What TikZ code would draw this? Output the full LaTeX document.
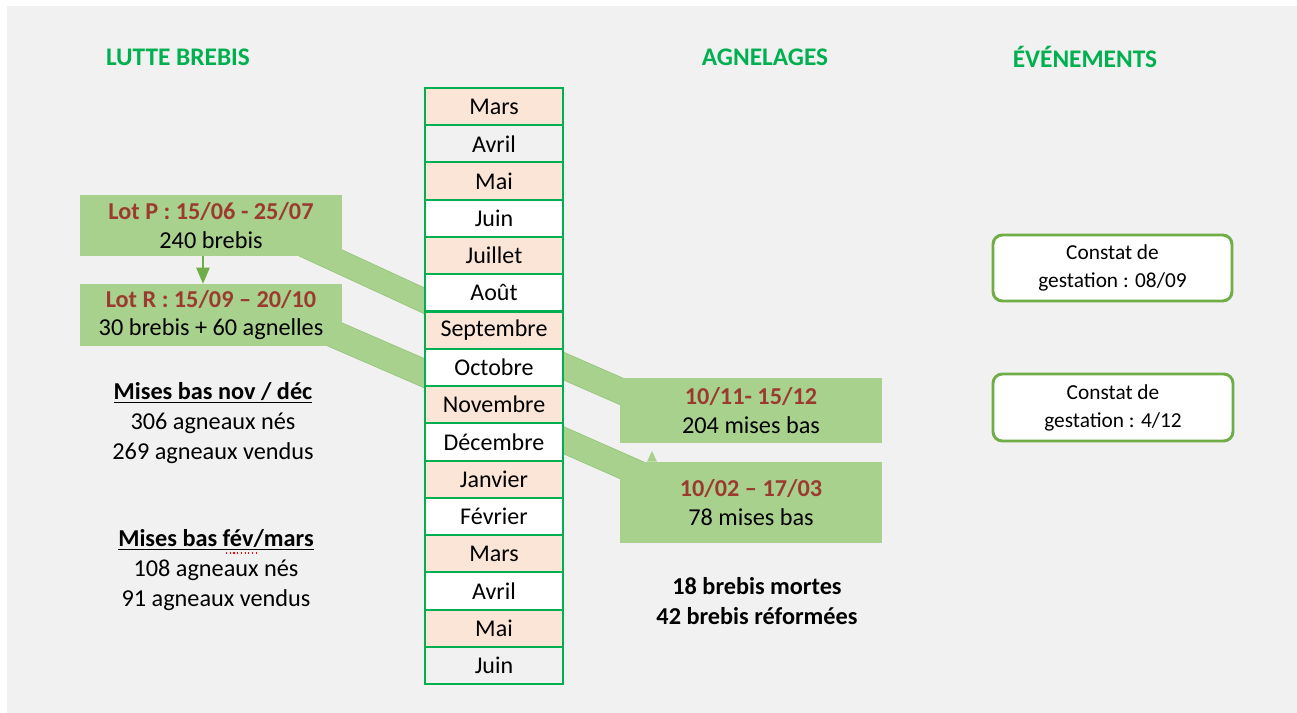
\documentclass[tikz,border=0pt]{standalone}
\usepackage{fontspec}
\setmainfont{Carlito}
\usetikzlibrary{arrows.meta,calc}
\definecolor{bgray}{HTML}{F1F1F1}
\definecolor{ttlgreen}{HTML}{00B050}
\definecolor{boxgreen}{HTML}{A9D18E}
\definecolor{bandedge}{HTML}{95C57A}
\definecolor{darkgreen}{HTML}{70AD47}
\definecolor{peach}{HTML}{FBE5D6}
\definecolor{lotred}{HTML}{9B3B30}
\tikzset{
  ttl/.style={font=\fontsize{19}{22}\selectfont\bfseries, text=ttlgreen, inner sep=0pt},
  greenbox/.style={fill=boxgreen, draw=none, align=center, inner sep=0pt,
     font=\fontsize{18.2}{21.5}\selectfont},
  month/.style={draw=ttlgreen, line width=1.5pt, inner sep=0pt, anchor=north west,
     minimum width=103.5pt, minimum height=27.94pt, font=\fontsize{18}{20}\selectfont},
  constat/.style={draw=darkgreen, line width=2.2pt, fill=white, rounded corners=7pt,
     align=center, inner sep=0pt, font=\fontsize{16}{21}\selectfont},
  stat/.style={align=center, inner sep=0pt, font=\fontsize{18.2}{22.5}\selectfont},
  bandout/.style={line width=#1+1.2pt, draw=bandedge},
  bandin/.style={line width=#1, draw=boxgreen},
}
\newcommand{\band}[3]{%
  \draw[bandout=#3] (#1) -- (#2);
  \draw[bandin=#3] (#1) -- (#2);}
\begin{document}
\begin{tikzpicture}[x=0.75pt,y=-0.75pt]
\useasboundingbox (0,0) rectangle (1297,713);
\fill[white] (0,0) rectangle (1297,713);
\fill[bgray] (7,6) rectangle (1297,713);

% band coordinates (behind everything)
\coordinate (b1s) at (260,225);
\coordinate (b1e) at (440,308);
\coordinate (b2s) at (260,302);
\coordinate (b2e) at (440,380);
\coordinate (b3s) at (545,358);
\coordinate (b3e) at (680,417);
\coordinate (b4s) at (545,432);
\coordinate (b4e) at (690,496);
\band{b1s}{b1e}{17pt}
\band{b2s}{b2e}{19.5pt}
\band{b3s}{b3e}{18.5pt}
\band{b4s}{b4e}{18pt}

% titles
\node[ttl] (t1) at (178,57) {LUTTE BREBIS};
\node[ttl] (t2) at (765,57) {AGNELAGES};
\node[ttl] (t3) at (1085,57) {ÉVÉNEMENTS};

% months column
\foreach \i/\m/\c in {1/Mars/peach,2/Avril/bgray,3/Mai/peach,4/Juin/white,
  5/Juillet/peach,6/Août/white,7/Septembre/peach,8/Octobre/white,
  9/Novembre/peach,10/Décembre/white,11/Janvier/peach,12/Février/white,
  13/Mars/peach,14/Avril/white,15/Mai/peach,16/Juin/bgray}{
  \node[month, fill=\c] (m\i) at (424,{87+(\i-1)*37.25}) {\m};
}

% green boxes
\node[greenbox, minimum width=196.5pt, minimum height=45.75pt] (lotP) at (211,225.5)
  {\textcolor{lotred}{\bfseries Lot P : 15/06 - 25/07}\\240 brebis};
\node[greenbox, minimum width=196.5pt, minimum height=46.5pt] (lotR) at (211,315)
  {\textcolor{lotred}{\bfseries Lot R : 15/09 – 20/10}\\30 brebis + 60 agnelles};
\node[greenbox, minimum width=196.5pt, minimum height=48.75pt] (ag1) at (751,410.5)
  {\textcolor{lotred}{\bfseries 10/11- 15/12}\\204 mises bas};
\node[greenbox, minimum width=196.5pt, minimum height=60.75pt] (ag2) at (751,502.5)
  {\textcolor{lotred}{\bfseries 10/02 – 17/03}\\78 mises bas};

% arrows between boxes
\coordinate (ax) at (203,0);
\draw[darkgreen, line width=1pt, -{Triangle[length=12pt,width=10pt]}]
  (lotP.south -| ax) -- (lotR.north -| ax);
\coordinate (bx) at (652,0);
\coordinate (btip) at (652,451);
\fill[boxgreen] (ag2.north -| bx) ++(-5,0) -- (btip) -- ($(ag2.north -| bx)+(5,0)$) -- cycle;

% events
\node[constat, minimum width=179.25pt, minimum height=49.5pt] (c1) at (1112.5,268)
  {Constat de\\gestation : 08/09};
\node[constat, minimum width=180pt, minimum height=50.25pt] (c2) at (1113,407.5)
  {Constat de\\gestation : 4/12};

% statistics
\node[stat] (s1) at (213,423)
  {\textbf{\underline{Mises bas nov / déc}}\\306 agneaux nés\\269 agneaux vendus};
\node[stat] (s2) at (216,570)
  {\textbf{\underline{Mises bas fév/mars}}\\108 agneaux nés\\91 agneaux vendus};
\draw[red, line width=0.8pt, dotted] (226,553) -- (256,553);
\node[stat, font=\fontsize{18.2}{22.5}\selectfont\bfseries] (s3) at (757,601)
  {18 brebis mortes\\42 brebis réformées};
\end{tikzpicture}
\end{document}
